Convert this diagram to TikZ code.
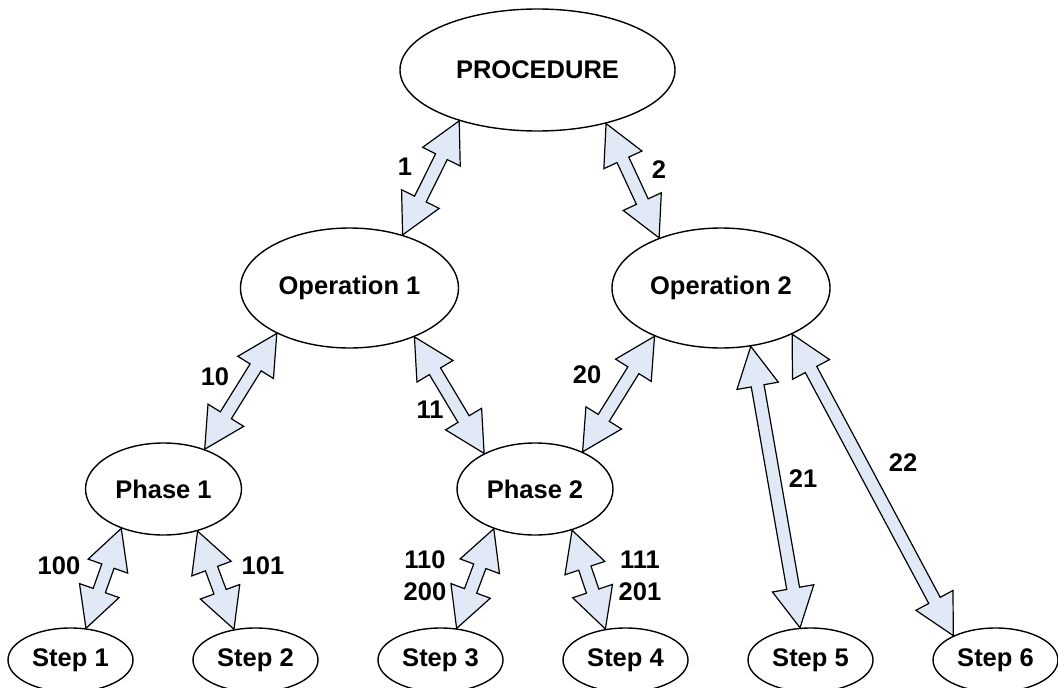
\documentclass[tikz,border=0pt]{standalone}
\usepackage{fontspec}
\setmainfont{Liberation Sans}
\usetikzlibrary{shapes.geometric,calc}

\definecolor{arrowfill}{RGB}{226,233,246}

% sizes of the double block arrows
\newcommand\arrHL{40pt}% head length
\newcommand\arrHW{21pt}% half width of a head
\newcommand\arrSW{6.5pt}% half width of the shaft

% double-headed block arrow between two points
\newcommand\dblarrow[2]{%
  \draw[arrowbody] (#1)
    -- ($(#1)!\arrHL!(#2)!\arrHW!90:(#2)$)
    -- ($(#1)!\arrHL!(#2)!\arrSW!90:(#2)$)
    -- ($(#2)!\arrHL!(#1)!\arrSW!-90:(#1)$)
    -- ($(#2)!\arrHL!(#1)!\arrHW!-90:(#1)$)
    -- (#2)
    -- ($(#2)!\arrHL!(#1)!\arrHW!90:(#1)$)
    -- ($(#2)!\arrHL!(#1)!\arrSW!90:(#1)$)
    -- ($(#1)!\arrHL!(#2)!\arrSW!-90:(#2)$)
    -- ($(#1)!\arrHL!(#2)!\arrHW!-90:(#2)$)
    -- cycle;}

\begin{document}
\begin{tikzpicture}[x=1pt,y=-1pt,
  every node/.style={font=\fontsize{25.5}{30}\selectfont\bfseries},
  oval/.style={ellipse,draw=black,line width=1.4pt,fill=white,inner sep=0pt},
  procoval/.style={oval,minimum width=275pt,minimum height=122pt},
  opoval/.style={oval,minimum width=218pt,minimum height=120pt},
  phaseoval/.style={oval,minimum width=156pt,minimum height=92pt},
  stepoval/.style={oval,minimum width=125pt,minimum height=64pt},
  arrowbody/.style={draw=black,fill=arrowfill,line width=1.2pt,line join=miter},
  lbl/.style={inner sep=0pt}]
\useasboundingbox (0,0) rectangle (1058,688);
\clip (0,0) rectangle (1058,688);

% ovals
\node[procoval]  (proc) at (537.5,70) {PROCEDURE};
\node[opoval]    (op1)  at (349.5,288) {Operation 1};
\node[opoval]    (op2)  at (721,288) {Operation 2};
\node[phaseoval] (ph1)  at (163.5,489) {Phase 1};
\node[phaseoval] (ph2)  at (535,489) {Phase 2};
\node[stepoval]  (s1)   at (70.5,660) {Step 1};
\node[stepoval]  (s2)   at (255.5,660) {Step 2};
\node[stepoval]  (s3)   at (440.5,660) {Step 3};
\node[stepoval]  (s4)   at (625.5,660) {Step 4};
\node[stepoval]  (s5)   at (810.5,660) {Step 5};
\node[stepoval]  (s6)   at (995.5,660) {Step 6};

% links
\dblarrow{proc.213}{op1.45}
\dblarrow{proc.322}{op2.141}
\dblarrow{op1.212}{ph1.44}
\dblarrow{op1.323}{ph2.145}
\dblarrow{op2.216}{ph2.38}
\dblarrow{op2.297}{s5.108}
\dblarrow{op2.327}{s6.150}
\dblarrow{ph1.223}{s1.64}
\dblarrow{ph1.309}{s2.125}
\dblarrow{ph2.224}{s3.63}
\dblarrow{ph2.312}{s4.123}

% link numbers
\node[lbl] (n1)   at (405,167) {1};
\node[lbl] (n2)   at (659,170) {2};
\node[lbl] (n10)  at (215,377) {10};
\node[lbl] (n11)  at (430,410) {11};
\node[lbl] (n20)  at (587,375) {20};
\node[lbl] (n21)  at (803,479) {21};
\node[lbl] (n22)  at (903,463) {22};
\node[lbl] (n100) at (59,566) {100};
\node[lbl] (n101) at (263,566) {101};
\node[lbl] (n110) at (425,560) {110};
\node[lbl] (n200) at (425,592) {200};
\node[lbl] (n111) at (640,560) {111};
\node[lbl] (n201) at (640,592) {201};
\end{tikzpicture}
\end{document}
